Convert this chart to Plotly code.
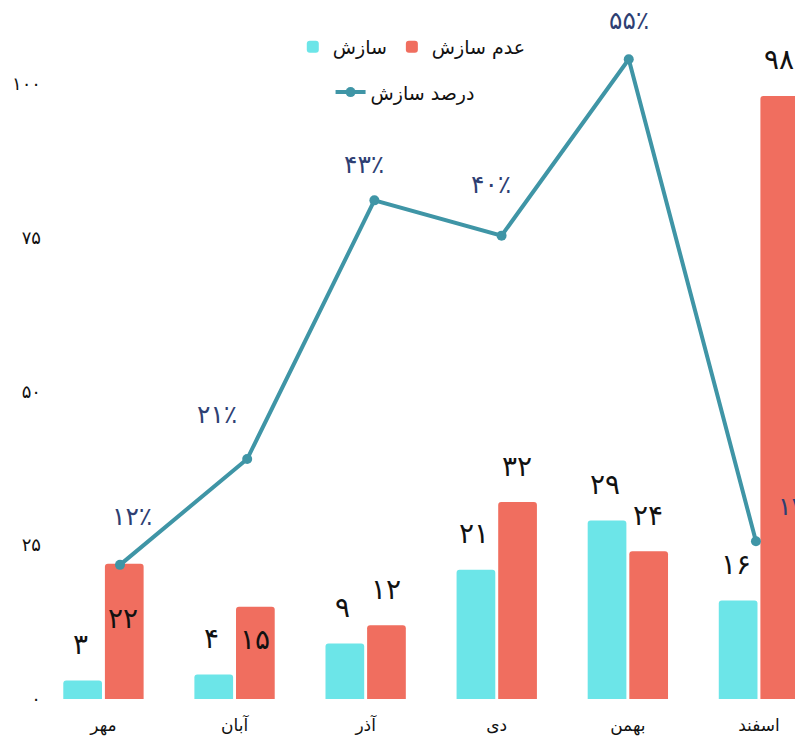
import plotly.graph_objects as go

months = ["مهر", "آبان", "آذر", "دی", "بهمن", "اسفند"]
agree = [3, 4, 9, 21, 29, 16]
disagree = [22, 15, 12, 32, 24, 98]
agree_pct = [12, 21, 43, 40, 55, 14]
ytick_vals = [0, 25, 50, 75, 100]

# label placement (styling only)
pct_label_dx = [12, -30, -10, -11, 0, 42]
pct_label_dy = [48, 45, 36, 51, 39, 35]
red_inside = [True, True, False, False, False, False]

FA = str.maketrans("0123456789", "۰۱۲۳۴۵۶۷۸۹")
def fa(n):
    return str(n).translate(FA)

FONT = "DejaVu Sans"
CYAN = "#6ce5e8"
RED = "#f06e5f"
TEAL = "#3f95a6"
NAVY = "#2e3f73"

fig = go.Figure()
fig.add_trace(go.Bar(x=months, y=agree, name="سازش", marker=dict(color=CYAN, line=dict(width=0)),
                     legend="legend"))
fig.add_trace(go.Bar(x=months, y=disagree, name="عدم سازش", marker=dict(color=RED, line=dict(width=0)),
                     legend="legend"))
xs_line = list(range(len(months)))
fig.add_trace(go.Scatter(x=xs_line, y=agree_pct, name="درصد سازش",
                         mode="lines+markers",
                         line=dict(color=TEAL, width=4),
                         marker=dict(color=TEAL, size=10),
                         xaxis="x2", yaxis="y2", cliponaxis=False, legend="legend2"))

annotations = []
# percentage labels
for i, v in enumerate(agree_pct):
    annotations.append(dict(x=xs_line[i], y=v, xref="x2", yref="y2", text=fa(v) + "٪",
                            showarrow=False, xshift=pct_label_dx[i], yshift=pct_label_dy[i],
                            font=dict(family=FONT, size=25, color=NAVY)))
# bar value labels
for i, m in enumerate(months):
    annotations.append(dict(x=m, y=agree[i], text=fa(agree[i]), showarrow=False,
                            xshift=-23, yshift=36, font=dict(family=FONT, size=28, color="#111")))
    if red_inside[i]:
        annotations.append(dict(x=m, y=disagree[i] / 2, text=fa(disagree[i]), showarrow=False,
                                xshift=20, yshift=13, font=dict(family=FONT, size=28, color="#111")))
    else:
        annotations.append(dict(x=m, y=disagree[i], text=fa(disagree[i]), showarrow=False,
                                xshift=20, yshift=36, font=dict(family=FONT, size=28, color="#111")))

fig.update_layout(
    width=795, height=737,
    margin=dict(l=48, r=0, t=0, b=38),
    paper_bgcolor="white", plot_bgcolor="white",
    font=dict(family=FONT, color="#111"),
    barmode="group", bargap=0.365, bargroupgap=0.07,
    barcornerradius=3,
    xaxis=dict(range=[-0.423, 5.275], showgrid=False, zeroline=False, showline=False,
               tickfont=dict(size=17, family=FONT), ticks="", ticklabelstandoff=14),
    xaxis2=dict(range=[-0.566, 5.307], overlaying="x", visible=False),
    yaxis=dict(range=[0, 113.6], tickvals=ytick_vals, ticktext=[fa(v) for v in ytick_vals],
               showgrid=False, zeroline=False, showline=False,
               tickfont=dict(size=18, family=FONT), ticklabelstandoff=6),
    yaxis2=dict(range=[0.59, 60.04], overlaying="y", visible=False),
    legend=dict(orientation="h", x=0.487, xanchor="center", y=0.933, yanchor="middle",
                font=dict(size=19, family=FONT), bgcolor="rgba(0,0,0,0)", traceorder="normal"),
    legend2=dict(orientation="h", x=0.478, xanchor="center", y=0.868, yanchor="middle",
                 font=dict(size=19, family=FONT), bgcolor="rgba(0,0,0,0)"),
    annotations=annotations,
)

fig.write_html("out.html", config={"displayModeBar": False},
               post_script="document.body.style.margin='0';document.body.style.overflow='hidden';")
